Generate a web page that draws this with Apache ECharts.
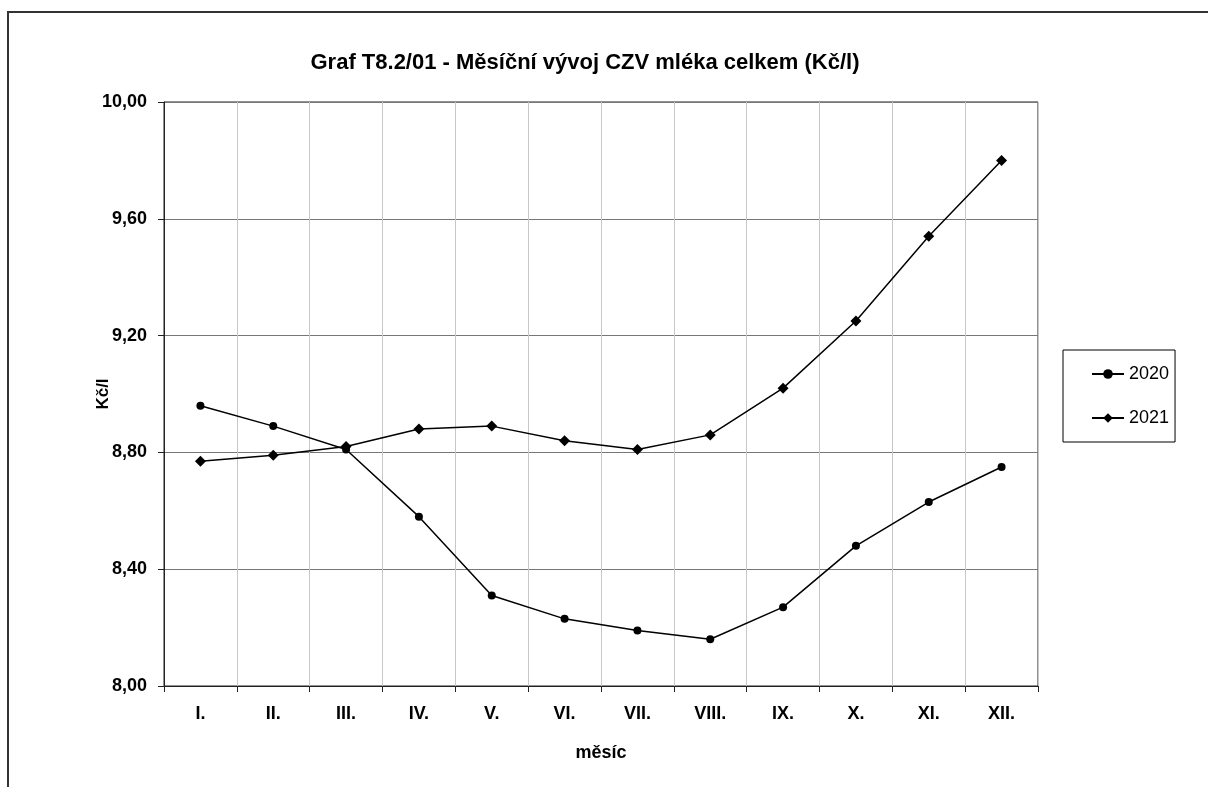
<!DOCTYPE html>
<html>
<head>
<meta charset="utf-8">
<script src="https://cdn.jsdelivr.net/npm/echarts@6/dist/echarts.min.js"></script>
<style>
  html, body { margin: 0; padding: 0; background: #fff; }
  #chart { width: 1208px; height: 787px; }
</style>
</head>
<body>
<div id="chart"></div>
<script>
var months = ['I.', 'II.', 'III.', 'IV.', 'V.', 'VI.', 'VII.', 'VIII.', 'IX.', 'X.', 'XI.', 'XII.']
var val2020 = [8.96, 8.89, 8.81, 8.58, 8.31, 8.23, 8.19, 8.16, 8.27, 8.48, 8.63, 8.75]
var val2021 = [8.77, 8.79, 8.82, 8.88, 8.89, 8.84, 8.81, 8.86, 9.02, 9.25, 9.54, 9.80]

var font = 'Liberation Sans, Arial, sans-serif'
var chart = echarts.init(document.getElementById('chart'))

var option = {
  backgroundColor: '#fff',
  animation: false,
  textStyle: { fontFamily: font },
  graphic: [{
    type: 'rect',
    shape: { x: 8, y: 12, width: 1220, height: 800 },
    style: { fill: 'none', stroke: '#333', lineWidth: 2 },
    silent: true
  }],
  title: {
    text: 'Graf T8.2/01 - Měsíční vývoj CZV mléka celkem (Kč/l)',
    left: 580,
    textAlign: 'center',
    top: 47,
    textStyle: { fontSize: 22, fontWeight: 'bold', color: '#000', fontFamily: font }
  },
  legend: {
    orient: 'vertical',
    left: 1063,
    top: 350,
    padding: [15, 6, 15, 28],
    itemGap: 26,
    itemWidth: 32,
    itemHeight: 12,
    borderColor: '#000',
    borderWidth: 1,
    textStyle: { fontSize: 18, color: '#000', fontFamily: font },
    data: ['2020', '2021']
  },
  grid: {
    left: 164,
    right: 170,
    top: 102,
    bottom: 101,
    show: true,
    borderColor: '#222',
    borderWidth: 1
  },
  xAxis: {
    type: 'category',
    data: months,
    boundaryGap: true,
    name: 'měsíc',
    nameLocation: 'middle',
    nameGap: 58,
    nameMoveOverlap: false,
    nameTextStyle: { fontSize: 18, fontWeight: 'bold', color: '#000', fontFamily: font },
    axisLine: { lineStyle: { color: '#222' } },
    axisTick: { show: true, inside: false, length: 6, lineStyle: { color: '#222' } },
    axisLabel: { fontSize: 18, fontWeight: 'bold', color: '#000', margin: 19 },
    splitLine: { show: true, lineStyle: { color: '#c8c8c8' } }
  },
  yAxis: {
    type: 'value',
    min: 8,
    max: 10,
    interval: 0.4,
    name: 'Kč/l',
    nameLocation: 'middle',
    nameGap: 52,
    nameMoveOverlap: false,
    nameTextStyle: { fontSize: 17, fontWeight: 'bold', color: '#000', fontFamily: font },
    axisLine: { show: true, lineStyle: { color: '#222' } },
    axisTick: { show: true, inside: false, length: 6, lineStyle: { color: '#222' } },
    axisLabel: {
      fontSize: 18, fontWeight: 'bold', color: '#000', margin: 17,
      formatter: function (v) { return v.toFixed(2).replace('.', ',') }
    },
    splitLine: { show: true, lineStyle: { color: '#777' } }
  },
  series: [
    {
      name: '2020',
      type: 'line',
      data: val2020,
      symbol: 'circle',
      symbolSize: 8,
      lineStyle: { color: '#000', width: 1.5 },
      itemStyle: { color: '#000' }
    },
    {
      name: '2021',
      type: 'line',
      data: val2021,
      symbol: 'diamond',
      symbolSize: 11,
      lineStyle: { color: '#000', width: 1.5 },
      itemStyle: { color: '#000' }
    }
  ]
}
chart.setOption(option)
</script>
</body>
</html>
